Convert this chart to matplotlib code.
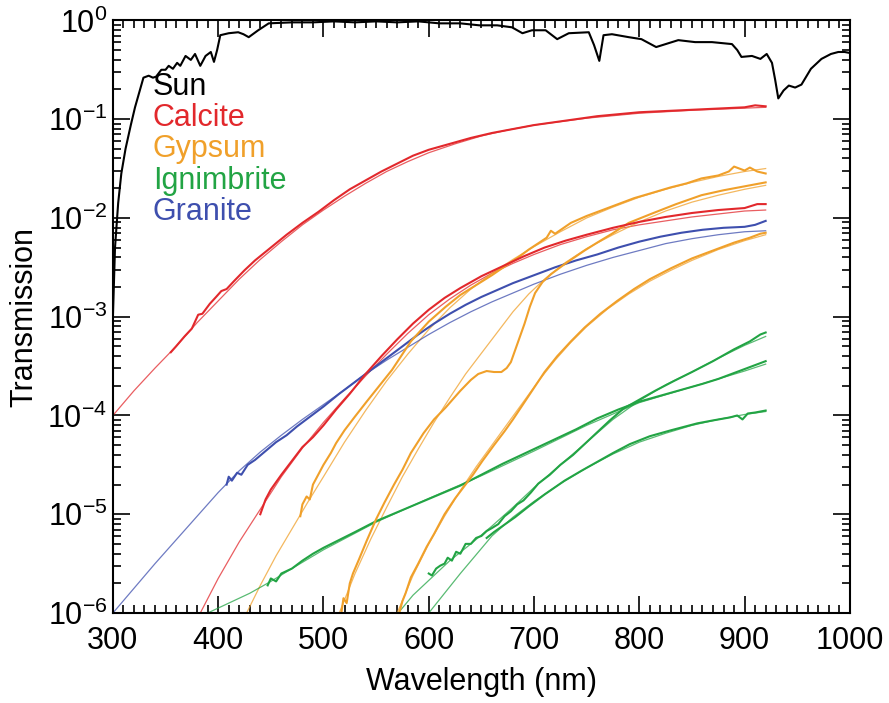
import numpy as np
import matplotlib
matplotlib.use("Agg")
import matplotlib.pyplot as plt
from matplotlib.ticker import LogLocator, MultipleLocator, FixedLocator, NullFormatter

# (wavelength nm, log10 transmission)
sun = [(300, -3.0), (302, -2.3), (305, -1.85), (308, -1.55), (312, -1.3), (317, -1.06),
       (321, -0.88), (325, -0.73), (329, -0.58), (334, -0.56), (338, -0.58), (341, -0.57),
       (346, -0.5), (350, -0.5), (353, -0.46), (357, -0.49), (361, -0.43), (364, -0.46),
       (369, -0.36), (374, -0.4), (378, -0.34), (383, -0.46), (388, -0.36), (393, -0.32),
       (396, -0.42), (399, -0.3), (402, -0.15), (410, -0.13), (419, -0.12), (424, -0.14),
       (429, -0.17), (438, -0.1), (448, -0.03), (470, -0.02), (490, -0.02), (510, -0.01),
       (530, -0.02), (550, -0.01), (570, -0.02), (590, -0.01), (610, -0.03), (630, -0.03),
       (648, -0.05), (665, -0.05), (679, -0.07), (689, -0.13), (698, -0.1), (711, -0.1),
       (722, -0.19), (733, -0.13), (752, -0.12), (757, -0.25), (762, -0.41), (766, -0.15),
       (774, -0.14), (790, -0.17), (802, -0.19), (809, -0.23), (816, -0.27), (825, -0.24),
       (837, -0.2), (853, -0.22), (869, -0.22), (888, -0.24), (893, -0.3), (897, -0.37),
       (907, -0.36), (915, -0.39), (921, -0.34), (926, -0.43), (929, -0.6), (932, -0.79),
       (937, -0.71), (942, -0.66), (948, -0.68), (954, -0.65), (963, -0.49), (973, -0.39),
       (982, -0.34), (989, -0.32), (995, -0.32), (1000, -0.33)]

calcite1 = [(355, -3.36), (360, -3.3), (368, -3.2), (375, -3.12), (381, -2.98), (385, -2.97),
            (392, -2.87), (398, -2.8), (403, -2.74), (408, -2.72), (415, -2.64), (425, -2.53),
            (435, -2.43), (450, -2.3), (465, -2.17), (480, -2.05), (495, -1.94), (510, -1.82),
            (525, -1.71), (540, -1.62), (555, -1.53), (570, -1.45), (585, -1.37), (600, -1.31),
            (620, -1.25), (640, -1.19), (660, -1.14), (680, -1.1), (700, -1.06), (720, -1.03),
            (740, -1.0), (760, -0.97), (780, -0.95), (800, -0.93), (820, -0.92), (840, -0.91),
            (860, -0.9), (880, -0.89), (900, -0.88), (910, -0.86), (920, -0.87)]
calcite1_fit = [(300, -4.0), (320, -3.75), (340, -3.52), (360, -3.3), (380, -3.06), (400, -2.84),
                (420, -2.62), (440, -2.42), (460, -2.24), (480, -2.07), (500, -1.92), (520, -1.78),
                (540, -1.65), (560, -1.53), (580, -1.43), (600, -1.34), (625, -1.25), (650, -1.17),
                (675, -1.11), (700, -1.06), (750, -0.99), (800, -0.94), (850, -0.91), (920, -0.88)]
calcite2 = [(440, -5.0), (445, -4.85), (450, -4.75), (460, -4.6), (470, -4.46), (480, -4.32),
            (490, -4.22), (500, -4.1), (512, -3.94), (525, -3.78), (540, -3.58), (555, -3.4),
            (570, -3.23), (585, -3.07), (600, -2.93), (615, -2.81), (630, -2.71), (650, -2.59),
            (670, -2.49), (690, -2.39), (710, -2.3), (730, -2.23), (750, -2.17), (775, -2.1),
            (800, -2.04), (825, -1.99), (850, -1.95), (875, -1.92), (900, -1.9), (912, -1.86),
            (920, -1.86)]
calcite2_fit = [(383, -6.0), (400, -5.65), (420, -5.28), (440, -4.95), (460, -4.62), (480, -4.33),
                (500, -4.07), (520, -3.83), (540, -3.6), (560, -3.38), (580, -3.17), (600, -2.98),
                (620, -2.82), (640, -2.68), (660, -2.56), (680, -2.46), (700, -2.37), (725, -2.27),
                (750, -2.19), (775, -2.12), (800, -2.07), (850, -1.99), (900, -1.93), (920, -1.92)]

granite = [(408, -4.7), (410, -4.62), (413, -4.66), (418, -4.58), (422, -4.6), (428, -4.5),
           (435, -4.45), (445, -4.36), (455, -4.27), (465, -4.2), (475, -4.11), (485, -4.03),
           (500, -3.91), (515, -3.78), (530, -3.66), (545, -3.54), (560, -3.42), (575, -3.3),
           (590, -3.18), (605, -3.07), (620, -2.97), (635, -2.88), (650, -2.8), (665, -2.73),
           (680, -2.66), (700, -2.58), (720, -2.5), (740, -2.43), (760, -2.37), (780, -2.3),
           (800, -2.24), (820, -2.19), (840, -2.15), (860, -2.12), (880, -2.1), (900, -2.09),
           (910, -2.07), (920, -2.03)]
granite_fit = [(300, -6.0), (320, -5.75), (340, -5.5), (360, -5.26), (380, -5.02), (400, -4.78),
               (420, -4.56), (440, -4.37), (460, -4.2), (480, -4.04), (500, -3.89), (520, -3.74),
               (540, -3.58), (560, -3.44), (580, -3.31), (600, -3.18), (620, -3.06), (640, -2.95),
               (660, -2.85), (680, -2.76), (700, -2.67), (725, -2.57), (750, -2.48), (775, -2.4),
               (800, -2.33), (825, -2.26), (850, -2.21), (875, -2.17), (900, -2.14), (920, -2.13)]

gypsum1 = [(478, -5.02), (480, -4.9), (484, -4.82), (487, -4.85), (490, -4.7), (495, -4.6),
           (500, -4.5), (507, -4.38), (512, -4.28), (520, -4.15), (530, -4.01), (541, -3.86),
           (550, -3.74), (565, -3.54), (583, -3.25), (600, -3.05), (616, -2.9), (630, -2.78),
           (645, -2.68), (660, -2.58), (675, -2.47), (685, -2.4), (695, -2.32), (705, -2.25),
           (712, -2.2), (716, -2.13), (720, -2.16), (735, -2.05), (750, -1.98), (765, -1.92),
           (780, -1.86), (795, -1.8), (811, -1.75), (830, -1.69), (845, -1.65), (859, -1.6),
           (875, -1.57), (885, -1.53), (890, -1.48), (895, -1.5), (900, -1.52), (905, -1.49),
           (912, -1.53), (920, -1.55)]
gypsum1_fit = [(427, -6.0), (440, -5.72), (455, -5.42), (470, -5.15), (485, -4.88), (500, -4.62),
               (520, -4.27), (540, -3.95), (560, -3.65), (580, -3.38), (600, -3.13), (620, -2.91),
               (640, -2.72), (660, -2.56), (680, -2.42), (700, -2.29), (725, -2.14), (750, -2.0),
               (775, -1.89), (800, -1.79), (825, -1.71), (850, -1.64), (875, -1.58), (900, -1.53),
               (920, -1.5)]
gypsum2 = [(517, -6.0), (519, -5.85), (522, -5.9), (525, -5.7), (528, -5.6), (534, -5.45),
           (541, -5.27), (550, -5.05), (558, -4.88), (567, -4.7), (575, -4.55), (583, -4.38),
           (595, -4.18), (605, -4.04), (616, -3.92), (630, -3.75), (640, -3.64), (647, -3.58),
           (655, -3.55), (662, -3.56), (669, -3.56), (674, -3.52), (678, -3.46), (684, -3.28),
           (691, -3.07), (696, -2.9), (701, -2.76), (708, -2.65), (716, -2.57), (730, -2.46),
           (748, -2.33), (760, -2.25), (774, -2.16), (790, -2.05), (811, -1.96), (835, -1.86),
           (859, -1.77), (880, -1.72), (900, -1.68), (910, -1.66), (920, -1.64)]
gypsum2_fit = [(515, -6.0), (530, -5.6), (545, -5.25), (560, -4.93), (575, -4.62), (590, -4.34),
               (605, -4.07), (620, -3.82), (635, -3.58), (650, -3.37), (665, -3.16), (680, -2.95),
               (695, -2.77), (710, -2.62), (730, -2.45), (750, -2.31), (775, -2.17), (800, -2.04),
               (825, -1.93), (850, -1.84), (875, -1.77), (900, -1.71), (920, -1.67)]
gypsum3 = [(572, -6.0), (575, -5.88), (578, -5.8), (583, -5.64), (590, -5.5), (598, -5.33),
           (605, -5.2), (615, -5.0), (625, -4.84), (642, -4.6), (651, -4.46), (662, -4.3),
           (672, -4.16), (680, -4.04), (690, -3.88), (700, -3.72), (710, -3.56), (722, -3.4),
           (735, -3.25), (748, -3.11), (763, -2.97), (779, -2.84), (795, -2.72), (810, -2.62),
           (830, -2.51), (850, -2.41), (870, -2.33), (890, -2.25), (905, -2.2), (915, -2.16),
           (920, -2.15)]
gypsum3_fit = [(570, -6.0), (585, -5.62), (600, -5.3), (615, -5.02), (630, -4.76), (645, -4.52),
               (660, -4.3), (675, -4.08), (690, -3.86), (705, -3.64), (720, -3.44), (735, -3.26),
               (750, -3.1), (770, -2.92), (790, -2.77), (810, -2.64), (830, -2.53), (850, -2.43),
               (875, -2.32), (900, -2.23), (920, -2.17)]

ignimbrite1 = [(447, -5.72), (450, -5.65), (455, -5.68), (460, -5.6), (470, -5.55), (480, -5.47),
               (490, -5.4), (500, -5.34), (515, -5.26), (530, -5.18), (550, -5.07), (570, -4.98),
               (590, -4.89), (610, -4.8), (630, -4.71), (650, -4.6), (670, -4.49), (690, -4.39),
               (716, -4.26), (740, -4.14), (760, -4.03), (780, -3.94), (800, -3.86), (820, -3.8),
               (840, -3.74), (860, -3.68), (875, -3.63), (890, -3.57), (905, -3.51), (915, -3.47),
               (920, -3.45)]
ignimbrite1_fit = [(390, -6.0), (410, -5.9), (430, -5.8), (450, -5.68), (470, -5.55), (500, -5.36),
                   (550, -5.08), (600, -4.84), (650, -4.61), (700, -4.36), (750, -4.1), (800, -3.87),
                   (850, -3.71), (900, -3.55), (920, -3.48)]
ignimbrite2 = [(600, -5.6), (603, -5.62), (607, -5.55), (611, -5.52), (615, -5.5), (618, -5.44),
               (622, -5.47), (626, -5.38), (630, -5.4), (635, -5.3), (640, -5.3), (645, -5.24),
               (650, -5.22), (655, -5.17), (660, -5.14), (666, -5.1), (672, -5.02), (678, -4.97),
               (684, -4.9), (690, -4.86), (697, -4.78), (704, -4.69), (715, -4.6), (725, -4.5),
               (737, -4.4), (748, -4.29), (760, -4.17), (772, -4.05), (785, -3.93), (800, -3.84),
               (815, -3.75), (833, -3.65), (850, -3.56), (870, -3.45), (890, -3.33), (905, -3.25),
               (915, -3.18), (920, -3.16)]
ignimbrite2_fit = [(571, -6.0), (585, -5.82), (603, -5.64), (620, -5.47), (640, -5.3), (660, -5.12),
                   (680, -4.93), (700, -4.73), (725, -4.5), (750, -4.27), (775, -4.04), (800, -3.85),
                   (825, -3.69), (850, -3.56), (875, -3.42), (900, -3.29), (920, -3.2)]
ignimbrite3 = [(655, -5.24), (662, -5.18), (670, -5.12), (682, -5.03), (695, -4.92), (710, -4.8),
               (729, -4.66), (745, -4.56), (760, -4.47), (775, -4.38), (791, -4.29), (810, -4.21),
               (830, -4.15), (855, -4.08), (870, -4.05), (886, -4.02), (893, -4.0), (898, -4.04),
               (903, -3.98), (910, -3.97), (920, -3.95)]
ignimbrite3_fit = [(600, -6.0), (615, -5.8), (630, -5.6), (645, -5.41), (660, -5.22), (680, -5.03),
                   (700, -4.87), (725, -4.69), (750, -4.53), (775, -4.39), (800, -4.27), (825, -4.18),
                   (850, -4.1), (875, -4.04), (900, -3.99), (920, -3.96)]

labels = ["Sun", "Calcite", "Gypsum", "Ignimbrite", "Granite"]
colors = ["black", "#e2282c", "#f0a02a", "#22a444", "#3e4fae"]

plt.rcParams['font.family'] = ['Liberation Sans', 'DejaVu Sans']
plt.rcParams['mathtext.fontset'] = 'custom'
plt.rcParams['mathtext.rm'] = 'Liberation Sans'
plt.rcParams['mathtext.it'] = 'Liberation Sans:italic'
plt.rcParams['mathtext.bf'] = 'Liberation Sans:bold'

fig = plt.figure(figsize=(8.89, 7.03), dpi=100)
ax = fig.add_axes([0.127, 0.128, 0.829, 0.843])


def draw(points, color, lw, alpha=1.0):
    wl = np.array([p[0] for p in points])
    t = 10.0 ** np.array([p[1] for p in points])
    ax.plot(wl, t, color=color, lw=lw, alpha=alpha, solid_joinstyle='round')


# model fits are the thin lines, measurements the thick ones
fits = [(calcite1_fit, 1), (calcite2_fit, 1), (gypsum1_fit, 2), (gypsum2_fit, 2),
        (gypsum3_fit, 2), (ignimbrite1_fit, 3), (ignimbrite2_fit, 3), (ignimbrite3_fit, 3),
        (granite_fit, 4)]
for pts, c in fits:
    draw(pts, colors[c], 0.9, 0.75)

meas = [(granite, 4), (ignimbrite1, 3), (ignimbrite2, 3), (ignimbrite3, 3),
        (gypsum1, 2), (gypsum2, 2), (gypsum3, 2), (calcite1, 1), (calcite2, 1)]
for pts, c in meas:
    draw(pts, colors[c], 1.5)

draw(sun, colors[0], 1.5)

ax.set_yscale('log')
ax.set_xlim(300, 1000)
ax.set_ylim(1e-6, 1)

ax.xaxis.set_major_locator(MultipleLocator(100))
ax.xaxis.set_minor_locator(MultipleLocator(10))
ax.yaxis.set_major_locator(FixedLocator([10.0 ** k for k in range(-6, 1)]))
ax.yaxis.set_minor_locator(LogLocator(base=10, subs=np.arange(2, 10), numticks=20))
ax.yaxis.set_minor_formatter(NullFormatter())
ax.set_yticklabels(["$10^{%d}$" % k if k == 0 else "$10^{\u2212%d}$" % -k for k in range(-6, 1)])

ax.tick_params(which='both', direction='in', top=True, right=True, width=1.2, labelsize=22)
ax.tick_params(which='major', length=12)
ax.tick_params(which='minor', length=6)
ax.tick_params(axis='x', which='major', pad=9)
ax.tick_params(axis='y', which='major', pad=4)
for s in ax.spines.values():
    s.set_linewidth(1.5)

ax.set_xlabel("Wavelength (nm)", fontsize=22, labelpad=8)
ax.set_ylabel("Transmission", fontsize=22, labelpad=6)

label_y = [0.874, 0.822, 0.770, 0.716, 0.663]
for name, c, y in zip(labels, colors, label_y):
    ax.text(0.054, y, name, color=c, fontsize=22, transform=ax.transAxes, va='baseline')

fig.savefig("out.png", dpi=100)
